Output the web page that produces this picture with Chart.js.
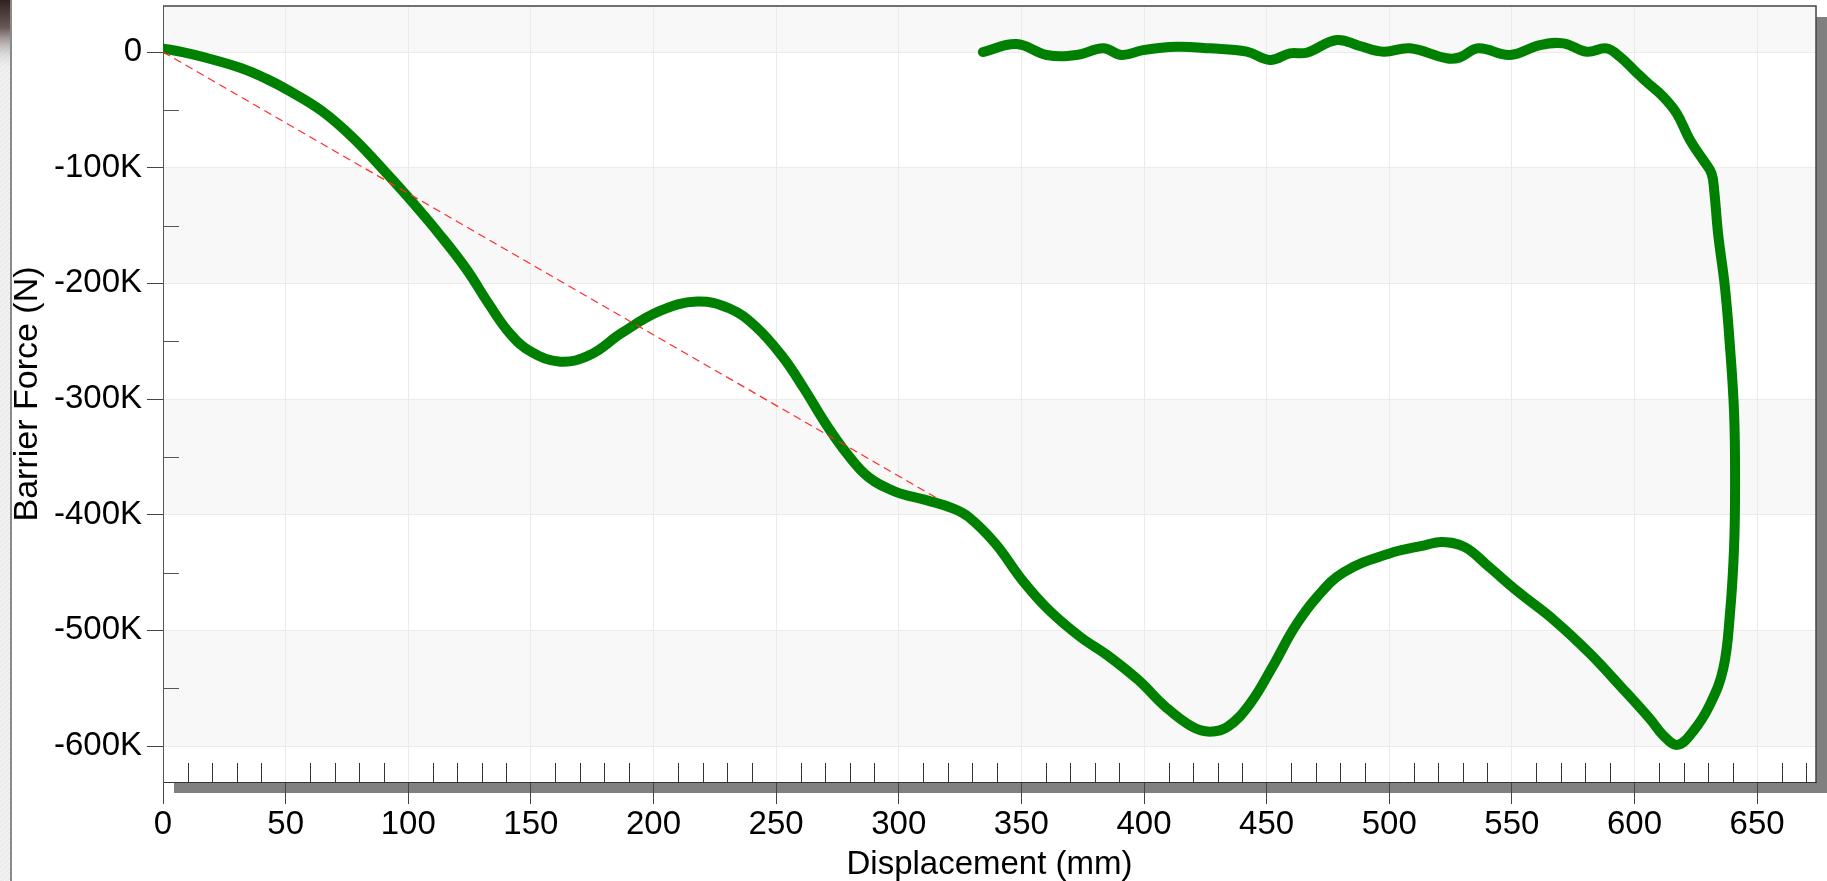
<!DOCTYPE html>
<html>
<head>
<meta charset="utf-8">
<script src="https://cdn.jsdelivr.net/npm/chart.js@4.4.0/dist/chart.umd.min.js"></script>
<style>
html, body { margin: 0; padding: 0; background: #fff; }
#wrap { width: 1827px; height: 881px; position: relative; }
</style>
</head>
<body>
<div id="wrap"><canvas id="forceChart"></canvas></div>
<script>
// barrier force vs displacement (mm / kN)
const dispMm = [
    0, 8, 16.8, 32, 42, 51.7, 64.8, 77.9, 91, 102, 112.9, 123.8, 132.6, 141.3, 150, 162,
    174, 187, 202.4, 217.7, 230.8, 241.7, 252.6, 261.4, 270.1, 278.8, 287.6, 298.5, 311.6,
    322, 328.5, 339.4, 350.4, 361.3, 374, 385, 397.7, 408.7, 419.6, 426.9, 434.2, 443.3,
    452.4, 461.5, 470.6, 481.6, 499.8, 514.4, 521.6, 530.8, 539.9, 552.6, 567.2, 581.8,
    594.5, 606.5, 611.7, 617.5, 624, 630.8, 636.2, 638.9, 640.6, 641, 640.6, 638.9, 636.9,
    634.1, 632.5, 631.4, 628, 622.6, 617.2, 611.7, 605, 600, 594, 588.6, 580.5, 571, 561.4,
    549.2, 536.3, 528.8, 523.4, 508.4, 497.6, 488, 478.6, 466.3, 459.5, 451.4, 441.9, 426.9,
    413.3, 399.7, 390.9, 383.4, 372.5, 360.3, 348, 334.3
];
const forceKN = [
    3, 0, -4.5, -14, -23, -33.8, -51, -75, -104.5, -130.5, -158, -188, -217, -243, -259, -267.7,
    -262, -243, -224, -215.7, -221.5, -237.4, -263.4, -291, -321, -347, -367.4, -380, -387.6,
    -394.5, -402, -425, -456.7, -482.6, -505.6, -521.4, -543, -566, -583.3, -587.6, -583.3, -563.2,
    -531.5, -497, -471, -449.5, -433.7, -426.5, -423.6, -428, -443.7, -466.8, -491.2, -520,
    -548.8, -577, -590.7, -599, -587, -564, -533, -486, -428, -370, -312, -254, -204,
    -157.5, -120, -105, -93.4, -76, -53, -38.6, -26, -16, -4, 3.2, 0.3, 7.5, 6,
    -2.6, 3.2, -4.6, -5.4, 3.2, 0.3, 5.2, 10.4, -0.6, -1.1, -6.9, 0.3, 3.2,
    4.6, 1.7, -2.6, 3.2, -2.6, -2.6, 6.9, 0
];

// red dashed reference line
const refDispMm = [0, 315];
const refForceKN = [0, -385];

// axis ticks
const xTickValues = [0, 50, 100, 150, 200, 250, 300, 350, 400, 450, 500, 550, 600, 650];
const yTickValues = [0, -100, -200, -300, -400, -500, -600];
const xMinorValues = [];
for (let v = 10; v < 674; v += 10) if (v % 50 !== 0) xMinorValues.push(v);
const yMinorValues = [-50, -150, -250, -350, -450, -550];
// light grey bands between grid lines
const greyBands = [[40, 0], [-100, -200], [-300, -400], [-500, -600]];

Chart.defaults.font.family = '"Liberation Sans", Arial, sans-serif';

const decor = {
    id: 'decor',
    beforeDraw(chart) {
        const { ctx, chartArea: a, scales: { x, y } } = chart;
        ctx.save();
        ctx.fillStyle = '#fff';
        ctx.fillRect(0, 0, chart.width, chart.height);

        // left window strip
        ctx.fillStyle = '#ececec';
        ctx.fillRect(0, 0, 10, chart.height);
        ctx.strokeStyle = '#f8f8f8';
        ctx.lineWidth = 1;
        for (let k = -10; k < chart.height; k += 5) {
            ctx.beginPath(); ctx.moveTo(0, k + 10); ctx.lineTo(10, k); ctx.stroke();
        }
        const g = ctx.createLinearGradient(0, 0, 0, 70);
        g.addColorStop(0, '#2e2220');
        g.addColorStop(0.4, '#6a5a58');
        g.addColorStop(1, 'rgba(230,230,230,0)');
        ctx.fillStyle = g;
        ctx.fillRect(0, 0, 10, 70);
        ctx.fillStyle = '#8a8a8a';
        ctx.fillRect(10, 0, 2, chart.height);

        // drop shadow
        ctx.fillStyle = '#808080';
        ctx.fillRect(a.right, a.top + 11, 11, a.bottom - a.top);
        ctx.fillRect(a.left + 11, a.bottom, a.right - a.left, 11);

        // bands
        ctx.fillStyle = '#f8f8f8';
        greyBands.forEach(([hi, lo]) => {
            const t = Math.max(y.getPixelForValue(hi), a.top);
            const b = y.getPixelForValue(lo);
            ctx.fillRect(a.left, t, a.right - a.left, b - t);
        });
        ctx.restore();
    },
    beforeDatasetsDraw(chart) {
        const { ctx, chartArea: a, scales: { x, y } } = chart;
        ctx.save();
        ctx.lineWidth = 1;
        ctx.strokeStyle = '#333';
        xMinorValues.forEach(v => {
            const px = Math.round(x.getPixelForValue(v)) + 0.5;
            ctx.beginPath(); ctx.moveTo(px, a.bottom); ctx.lineTo(px, a.bottom - 19); ctx.stroke();
        });
        ctx.strokeStyle = '#555';
        yMinorValues.forEach(v => {
            const py = Math.round(y.getPixelForValue(v)) + 0.5;
            ctx.beginPath(); ctx.moveTo(a.left, py); ctx.lineTo(a.left + 16, py); ctx.stroke();
        });
        // frame top / right
        ctx.strokeStyle = '#444';
        ctx.lineWidth = 1.5;
        ctx.beginPath();
        ctx.moveTo(a.left, a.top); ctx.lineTo(a.right, a.top); ctx.lineTo(a.right, a.bottom);
        ctx.stroke();
        ctx.restore();
    }
};

const ctx = document.getElementById('forceChart').getContext('2d');

const forceChart = new Chart(ctx, {
    type: 'line',
    data: {
        datasets: [{
            label: 'Reference',
            data: refDispMm.map((d, i) => ({ x: d, y: refForceKN[i] })),
            borderColor: '#ff2a2a',
            borderWidth: 1.2,
            borderDash: [8, 5],
            pointRadius: 0,
            order: 0
        }, {
            label: 'Barrier Force',
            data: dispMm.map((d, i) => ({ x: d, y: forceKN[i] })),
            borderColor: '#008000',
            borderWidth: 10,
            borderCapStyle: 'round',
            borderJoinStyle: 'round',
            pointRadius: 0,
            tension: 0.4,
            order: 1
        }]
    },
    options: {
        responsive: true,
        maintainAspectRatio: false,
        animation: false,
        layout: { padding: { left: 0, right: 11, top: 6, bottom: 0 } },
        plugins: {
            legend: { display: false },
            tooltip: { enabled: false }
        },
        scales: {
            x: {
                type: 'linear',
                min: 0,
                max: 674,
                afterBuildTicks: s => { s.ticks = xTickValues.map(v => ({ value: v })); },
                afterFit: s => { s.height = 99; s.paddingLeft = 0; s.paddingRight = 0; },
                ticks: { color: '#000', font: { size: 33 }, padding: 1, maxRotation: 0, autoSkip: false },
                grid: { color: '#ebebeb', lineWidth: 1, tickColor: '#444', tickLength: 22 },
                border: { color: '#333', width: 1 },
                title: {
                    display: true,
                    text: 'Displacement (mm)',
                    color: '#000',
                    font: { size: 33, lineHeight: 1 },
                    padding: { top: 0, bottom: 0 }
                }
            },
            y: {
                min: -631.1,
                max: 39.8,
                afterBuildTicks: s => { s.ticks = yTickValues.map(v => ({ value: v })); },
                afterFit: s => { s.width = 163; s.paddingTop = 0; s.paddingBottom = 0; },
                ticks: {
                    color: '#000',
                    font: { size: 33 },
                    padding: 5,
                    callback: v => (v === 0 ? '0' : v + 'K')
                },
                grid: { color: '#ebebeb', lineWidth: 1, tickColor: '#444', tickLength: 16 },
                border: { color: '#555', width: 1 },
                title: {
                    display: true,
                    text: 'Barrier Force (N)',
                    color: '#000',
                    font: { size: 34, lineHeight: 1 },
                    padding: { top: 11, bottom: 0 }
                }
            }
        }
    },
    plugins: [decor]
});
</script>
</body>
</html>
